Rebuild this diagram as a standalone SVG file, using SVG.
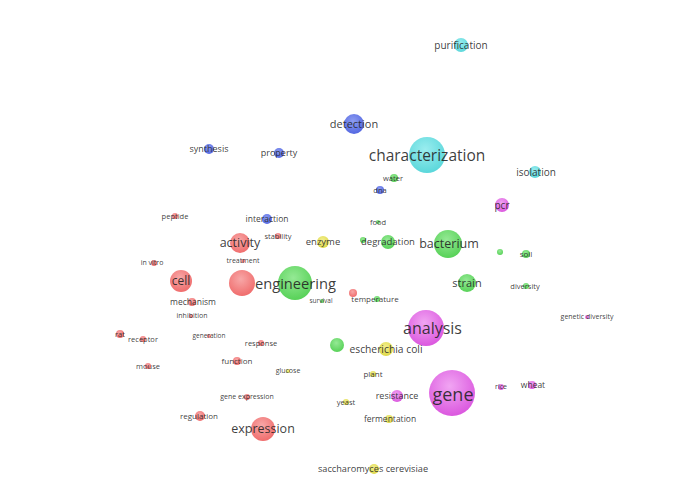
<svg xmlns="http://www.w3.org/2000/svg" width="700" height="498" viewBox="0 0 700 498">
<defs>
<radialGradient id="gr" cx="45%" cy="35%" r="65%"><stop offset="0" stop-color="#f7a3a3"/><stop offset="1" stop-color="#ef6565"/></radialGradient>
<radialGradient id="gg" cx="45%" cy="35%" r="65%"><stop offset="0" stop-color="#8fe88f"/><stop offset="1" stop-color="#4fcf4f"/></radialGradient>
<radialGradient id="gb" cx="45%" cy="35%" r="65%"><stop offset="0" stop-color="#8797f0"/><stop offset="1" stop-color="#4a5fe0"/></radialGradient>
<radialGradient id="gc" cx="45%" cy="35%" r="65%"><stop offset="0" stop-color="#95ecee"/><stop offset="1" stop-color="#52d5d9"/></radialGradient>
<radialGradient id="gm" cx="45%" cy="35%" r="65%"><stop offset="0" stop-color="#f0a0f2"/><stop offset="1" stop-color="#d94fdd"/></radialGradient>
<radialGradient id="gy" cx="45%" cy="35%" r="65%"><stop offset="0" stop-color="#f2ee8a"/><stop offset="1" stop-color="#dcd63c"/></radialGradient>
</defs>
<style>
text{font-family:"Open Sans","DejaVu Sans",sans-serif;fill:#222;fill-opacity:0.88;text-anchor:middle;dominant-baseline:central}
.r{fill:url(#gr)}.g{fill:url(#gg)}.b{fill:url(#gb)}.c{fill:url(#gc)}.m{fill:url(#gm)}.y{fill:url(#gy)}
circle{fill-opacity:0.95}
</style>
<rect width="700" height="498" fill="#fff"/>
<g id="connectors"></g>
<g id="n-purification"><circle class="c" cx="461" cy="45" r="7"/><text x="461" y="44.5" font-size="10">purification</text></g>
<g id="n-detection"><circle class="b" cx="354" cy="124" r="10"/><text x="354" y="123.5" font-size="11">detection</text></g>
<g id="n-characterization"><circle class="c" cx="427" cy="155" r="18"/><text x="427" y="154.5" font-size="15.5">characterization</text></g>
<g id="n-isolation"><circle class="c" cx="535" cy="172" r="6"/><text x="536" y="171.5" font-size="10">isolation</text></g>
<g id="n-synthesis"><circle class="b" cx="209" cy="149" r="5"/><text x="209" y="148.5" font-size="9">synthesis</text></g>
<g id="n-property"><circle class="b" cx="279" cy="153" r="5"/><text x="279" y="152.5" font-size="9">property</text></g>
<g id="n-water"><circle class="g" cx="394" cy="178" r="4"/><text x="393" y="177.5" font-size="7.5">water</text></g>
<g id="n-dna"><circle class="b" cx="380" cy="190" r="4"/><text x="380" y="189.5" font-size="7.5">dna</text></g>
<g id="n-pcr"><circle class="m" cx="502" cy="205" r="7"/><text x="502" y="204.5" font-size="10">pcr</text></g>
<g id="n-peptide"><circle class="r" cx="175" cy="216" r="3"/><text x="175" y="215.5" font-size="7.5">peptide</text></g>
<g id="n-interaction"><circle class="b" cx="267" cy="219" r="5"/><text x="267" y="218.5" font-size="8.5">interaction</text></g>
<g id="n-stability"><circle class="r" cx="278" cy="236" r="3"/><text x="278" y="235.5" font-size="7.5">stability</text></g>
<g id="n-food"><circle class="g" cx="378" cy="222" r="2"/><text x="378" y="221.5" font-size="7.5">food</text></g>
<g id="n-activity"><circle class="r" cx="240" cy="243" r="10"/><text x="240" y="242.5" font-size="12.5">activity</text></g>
<g id="n-enzyme"><circle class="y" cx="323" cy="242" r="6"/><text x="323" y="241.5" font-size="9.5">enzyme</text></g>
<g id="n-g1"><circle class="g" cx="363" cy="240" r="3"/></g>
<g id="n-degradation"><circle class="g" cx="388" cy="242" r="7"/><text x="388" y="241.5" font-size="9.5">degradation</text></g>
<g id="n-bacterium"><circle class="g" cx="448" cy="244" r="14"/><text x="449" y="243.5" font-size="12.5">bacterium</text></g>
<g id="n-g2"><circle class="g" cx="500" cy="252" r="3"/></g>
<g id="n-soil"><circle class="g" cx="526" cy="254" r="4"/><text x="526" y="253.5" font-size="8">soil</text></g>
<g id="n-treatment"><circle class="r" cx="243" cy="261" r="2"/><text x="243" y="260.5" font-size="7">treatment</text></g>
<g id="n-invitro"><circle class="r" cx="154" cy="263" r="3"/><text x="152" y="262.5" font-size="7">in vitro</text></g>
<g id="n-cell"><circle class="r" cx="181" cy="281" r="11"/><text x="181" y="280.5" font-size="12">cell</text></g>
<g id="n-r1"><circle class="r" cx="242" cy="283" r="13"/></g>
<g id="n-engineering"><circle class="g" cx="295" cy="283" r="17"/><text x="295.5" y="282.5" font-size="14.7">engineering</text></g>
<g id="n-strain"><circle class="g" cx="467" cy="283" r="9"/><text x="467" y="282.5" font-size="11">strain</text></g>
<g id="n-diversity"><circle class="g" cx="526" cy="286" r="3"/><text x="525" y="285.5" font-size="7.5">diversity</text></g>
<g id="n-r2"><circle class="r" cx="353" cy="293" r="4"/></g>
<g id="n-temperature"><circle class="g" cx="377" cy="299" r="3"/><text x="375" y="298.5" font-size="8">temperature</text></g>
<g id="n-survival"><circle class="g" cx="322" cy="301" r="2"/><text x="321" y="300.5" font-size="6.5">survival</text></g>
<g id="n-mechanism"><circle class="r" cx="192" cy="302" r="4"/><text x="193" y="301.5" font-size="8.5">mechanism</text></g>
<g id="n-inhibition"><circle class="r" cx="191" cy="316" r="2"/><text x="192" y="315.5" font-size="7">inhibition</text></g>
<g id="n-geneticdiversity"><circle class="m" cx="587" cy="317" r="2"/><text x="587" y="316.5" font-size="7">genetic diversity</text></g>
<g id="n-analysis"><circle class="m" cx="426" cy="328" r="18"/><text x="432.5" y="327.5" font-size="16">analysis</text></g>
<g id="n-rat"><circle class="r" cx="120" cy="334" r="4"/><text x="120" y="333.5" font-size="7.5">rat</text></g>
<g id="n-receptor"><circle class="r" cx="143" cy="339" r="3"/><text x="143" y="338.5" font-size="7.5">receptor</text></g>
<g id="n-generation"><circle class="r" cx="209" cy="336" r="2"/><text x="209" y="335.5" font-size="6.5">generation</text></g>
<g id="n-response"><circle class="r" cx="261" cy="343" r="3"/><text x="261" y="342.5" font-size="7.5">response</text></g>
<g id="n-g3"><circle class="g" cx="337" cy="345" r="7"/></g>
<g id="n-escherichiacoli"><circle class="y" cx="386" cy="349" r="7"/><text x="386" y="348.5" font-size="10.3">escherichia coli</text></g>
<g id="n-function"><circle class="r" cx="237" cy="361" r="4"/><text x="237" y="360.5" font-size="8">function</text></g>
<g id="n-mouse"><circle class="r" cx="148" cy="366" r="3"/><text x="148" y="365.5" font-size="7.5">mouse</text></g>
<g id="n-glucose"><circle class="y" cx="288" cy="371" r="2"/><text x="288" y="370.5" font-size="7">glucose</text></g>
<g id="n-plant"><circle class="y" cx="373" cy="374" r="3"/><text x="373" y="373.5" font-size="8">plant</text></g>
<g id="n-gene"><circle class="m" cx="452" cy="393" r="23"/><text x="453" y="393.5" font-size="18">gene</text></g>
<g id="n-rice"><circle class="m" cx="501" cy="387" r="3"/><text x="501" y="386.5" font-size="7">rice</text></g>
<g id="n-wheat"><circle class="m" cx="532" cy="385" r="4"/><text x="533" y="384.5" font-size="8.5">wheat</text></g>
<g id="n-resistance"><circle class="m" cx="397" cy="396" r="6"/><text x="397" y="395.5" font-size="9">resistance</text></g>
<g id="n-yeast"><circle class="y" cx="346" cy="402" r="3"/><text x="346" y="401.5" font-size="7.5">yeast</text></g>
<g id="n-geneexpression"><circle class="r" cx="247" cy="397" r="3"/><text x="247" y="396.5" font-size="7">gene expression</text></g>
<g id="n-regulation"><circle class="r" cx="200" cy="416" r="5"/><text x="199" y="415.5" font-size="8">regulation</text></g>
<g id="n-fermentation"><circle class="y" cx="389" cy="419" r="4"/><text x="390" y="418.5" font-size="8.5">fermentation</text></g>
<g id="n-expression"><circle class="r" cx="263" cy="429" r="12"/><text x="263" y="428.5" font-size="12.5">expression</text></g>
<g id="n-saccharomyces"><circle class="y" cx="374" cy="469" r="5"/><text x="373" y="468.5" font-size="9.2">saccharomyces cerevisiae</text></g>
</svg>
